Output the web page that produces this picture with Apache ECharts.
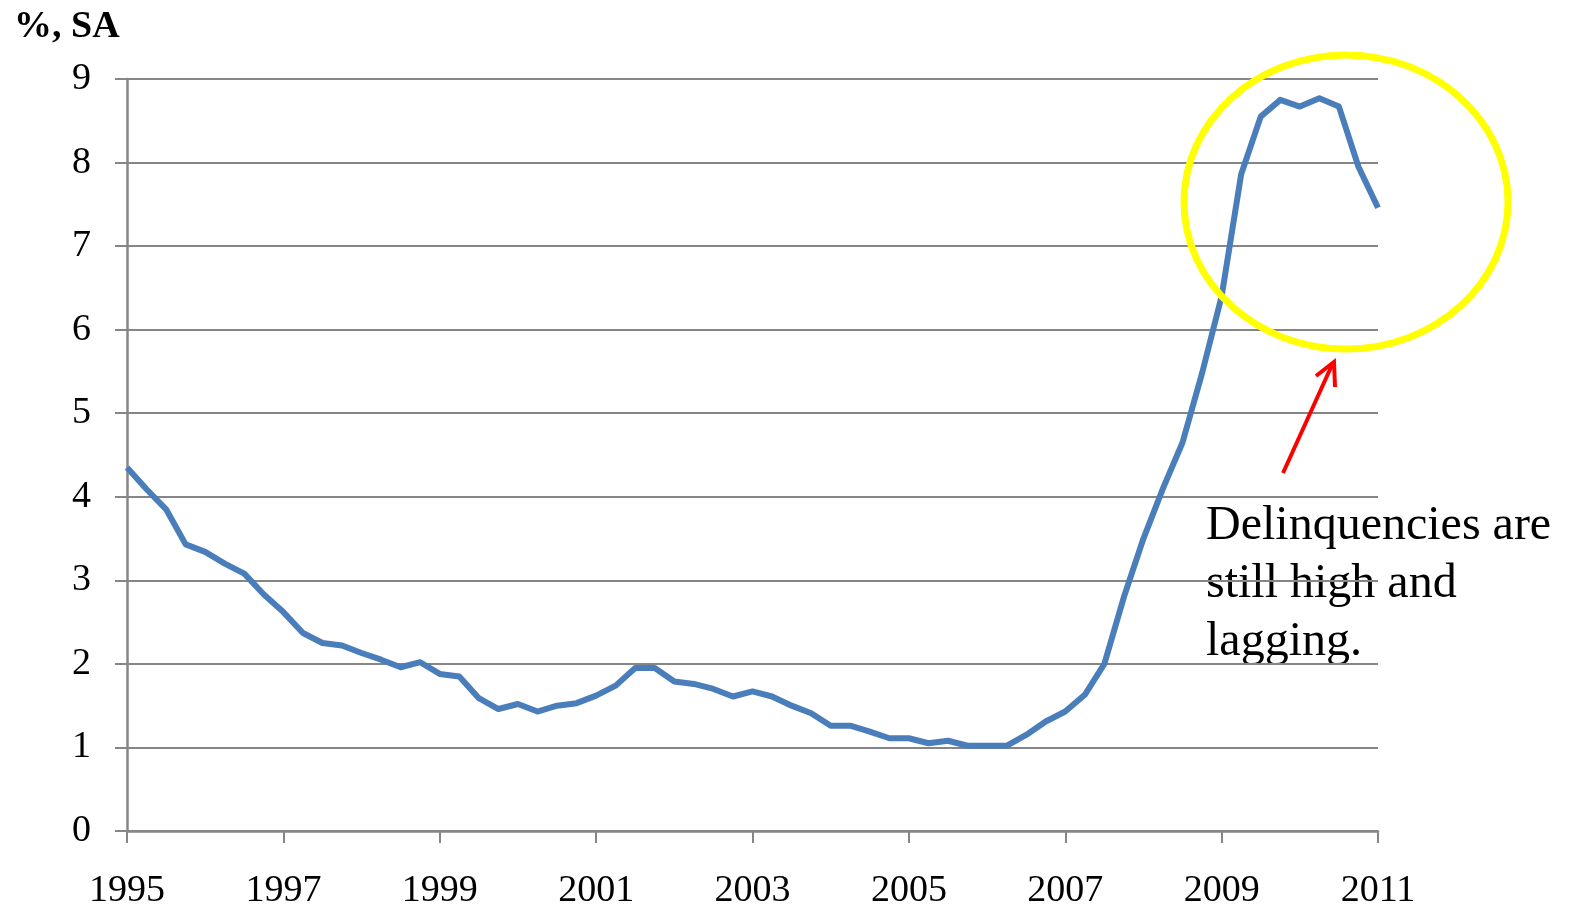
<!DOCTYPE html>
<html>
<head>
<meta charset="utf-8">
<title>Delinquency rate</title>
<script src="https://cdn.jsdelivr.net/npm/echarts@6/dist/echarts.min.js"></script>
<style>
  html, body { margin: 0; padding: 0; background: #ffffff; }
  #chart { width: 1574px; height: 910px; }
</style>
</head>
<body>
<div id="chart"></div>
<script>
// Quarterly observations, 1995 Q1 through 2011 Q1
const startYear = 1995;
const endYear = 2011;
const quarters = [];
for (let y = startYear; y <= endYear; y++) {
  for (let q = 1; q <= 4; q++) {
    if (y === endYear && q > 1) break;
    quarters.push(y + ' Q' + q);
  }
}

// Delinquency rate, %, seasonally adjusted
const rateValues = [
  4.35, 4.09, 3.85, 3.43, 3.34, 3.20, 3.08, 2.83,
  2.62, 2.37, 2.25, 2.22, 2.13, 2.05, 1.96, 2.02,
  1.88, 1.85, 1.59, 1.46, 1.52, 1.43, 1.50, 1.53,
  1.62, 1.74, 1.95, 1.95, 1.79, 1.76, 1.70, 1.61,
  1.67, 1.61, 1.50, 1.41, 1.26, 1.26, 1.19, 1.11,
  1.11, 1.05, 1.08, 1.02, 1.02, 1.02, 1.15, 1.31,
  1.43, 1.63, 2.00, 2.80, 3.50, 4.10, 4.65, 5.48,
  6.40, 7.86, 8.55, 8.75, 8.67, 8.77, 8.67, 7.95,
  7.46
];

const unitLabel = '%, SA';
const noteLines = ['Delinquencies are', 'still high and', 'lagging.'];

const axisGray = '#868686';
const serif = '"Liberation Serif", "Times New Roman", serif';

const chart = echarts.init(document.getElementById('chart'), null, { renderer: 'canvas' });

chart.setOption({
  animation: false,
  backgroundColor: '#ffffff',
  grid: { left: 127, right: 196, top: 79, bottom: 78, containLabel: false },
  xAxis: {
    type: 'category',
    data: quarters,
    boundaryGap: false,
    axisLine: { show: true, lineStyle: { color: axisGray, width: 2.5 } },
    axisTick: { show: true, interval: 7, length: 12, lineStyle: { color: axisGray, width: 2 } },
    axisLabel: {
      interval: 7,
      margin: 41,
      color: '#000',
      fontFamily: serif,
      fontSize: 38,
      formatter: v => v.slice(0, 4)
    },
    splitLine: { show: false }
  },
  yAxis: {
    type: 'value',
    min: 0,
    max: 9,
    interval: 1,
    axisLine: { show: true, lineStyle: { color: axisGray, width: 2.5 } },
    axisTick: { show: true, length: 12, lineStyle: { color: axisGray, width: 2 } },
    axisLabel: { margin: 36, color: '#000', fontFamily: serif, fontSize: 38 },
    splitLine: { show: true, lineStyle: { color: axisGray, width: 2 } }
  },
  series: [{
    type: 'line',
    data: rateValues,
    showSymbol: false,
    symbol: 'none',
    lineStyle: { color: '#4A7EBB', width: 6, join: 'round' },
    z: 3
  }],
  graphic: [
    {
      type: 'text',
      left: 14,
      top: 8,
      style: { text: unitLabel, font: 'bold 38px ' + serif, fill: '#000' }
    },
    {
      type: 'text',
      left: 1206,
      top: 497,
      style: {
        text: noteLines.join('\n'),
        font: '48px ' + serif,
        lineHeight: 58,
        fill: '#000'
      }
    },
    {
      type: 'ellipse',
      shape: { cx: 1346, cy: 202, rx: 162, ry: 147 },
      style: { fill: null, stroke: '#FFFF00', lineWidth: 7 },
      z: 10
    },
    {
      type: 'line',
      shape: { x1: 1283, y1: 473, x2: 1332, y2: 365 },
      style: { stroke: '#FF0000', lineWidth: 4 },
      z: 10
    },
    {
      type: 'polyline',
      shape: { points: [[1316, 376], [1334, 362], [1335, 387]] },
      style: { stroke: '#FF0000', lineWidth: 4, fill: null },
      z: 10
    }
  ]
});
</script>
</body>
</html>
